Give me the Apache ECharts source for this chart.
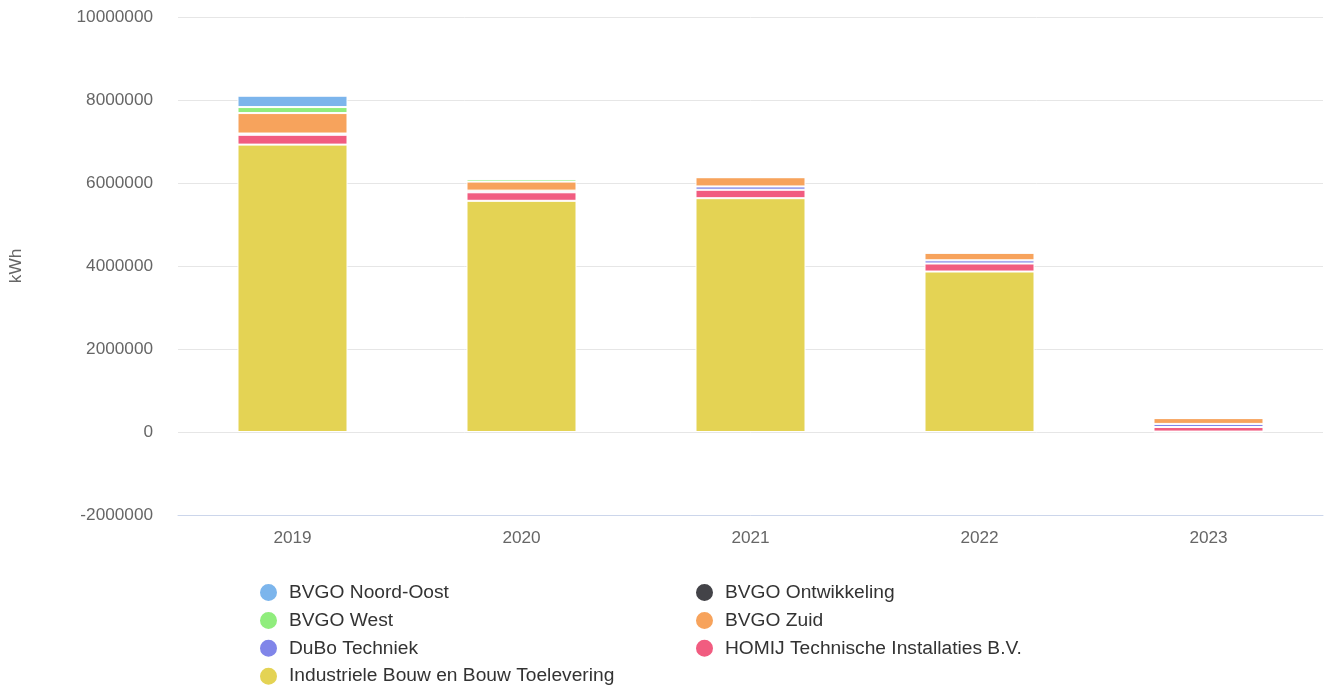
<!DOCTYPE html>
<html>
<head>
<meta charset="utf-8">
<script src="https://cdn.jsdelivr.net/npm/echarts@6/dist/echarts.min.js"></script>
<style>
html,body{margin:0;padding:0;background:#fff;}
#c{width:1324px;height:686px;}
</style>
</head>
<body>
<div id="c"></div>
<script>
var categories = ['2019', '2020', '2021', '2022', '2023'];
var industriele = [6925000, 5571000, 5634000, 3867000, 10000];
var homij = [237000, 205000, 203000, 193000, 110000];
var dubo = [30000, 40000, 80000, 77000, 75000];
var zuid = [493000, 218000, 222000, 184000, 140000];
var west = [145000, 65000, 0, 0, 0];
var ontwikkeling = [0, 0, 0, 0, 0];
var noordOost = [273000, 0, 0, 0, 0];
var yTicks = [-2000000, 0, 2000000, 4000000, 6000000, 8000000, 10000000];

var names = {
  no: 'BVGO Noord-Oost', on: 'BVGO Ontwikkeling', we: 'BVGO West', zu: 'BVGO Zuid',
  du: 'DuBo Techniek', ho: 'HOMIJ Technische Installaties B.V.', ind: 'Industriele Bouw en Bouw Toelevering'
};
var colors = {
  no: '#7cb5ec', on: '#434348', we: '#90ed7d', zu: '#f7a35c', du: '#8085e9', ho: '#f15c80', ind: '#e4d354'
};
var font = '"Liberation Sans", Arial, Helvetica, sans-serif';

function ser(key, data) {
  return {
    name: names[key], type: 'bar', stack: 'total', data: data, barWidth: 110,
    itemStyle: { color: colors[key], borderColor: '#ffffff', borderWidth: 1 },
    emphasis: { disabled: true }
  };
}

var legendCommon = {
  orient: 'vertical', icon: 'circle', itemWidth: 19, itemHeight: 19, itemGap: 6.9,
  padding: 0, height: 120,
  textStyle: { fontFamily: font, fontSize: 19.2, color: '#333333', lineHeight: 19, height: 19, padding: [0, 0, 0, 6] },
  top: 582
};

var chart = echarts.init(document.getElementById('c'));
chart.setOption({
  animation: false,
  textStyle: { fontFamily: font },
  grid: { left: 178, right: 1, top: 17, bottom: 171 },
  legend: [
    Object.assign({}, legendCommon, { left: 258, data: [names.no, names.we, names.du, names.ind] }),
    Object.assign({}, legendCommon, { left: 694, data: [names.on, names.zu, names.ho] })
  ],
  xAxis: {
    type: 'category', data: categories,
    axisLine: { onZero: false, lineStyle: { color: '#ccd6eb', width: 1 } },
    axisTick: { show: false },
    axisLabel: { color: '#666666', fontSize: 17.2, margin: 15, fontFamily: font }
  },
  yAxis: {
    type: 'value', min: yTicks[0], max: yTicks[yTicks.length - 1], interval: 2000000,
    name: 'kWh', nameLocation: 'middle', nameGap: 153, nameRotate: 90,
    nameTextStyle: { color: '#666666', fontSize: 17.2, fontFamily: font },
    axisLine: { show: false }, axisTick: { show: false },
    axisLabel: { color: '#666666', fontSize: 17.2, margin: 25, fontFamily: font,
      formatter: function (v) { return String(v); } },
    splitLine: { lineStyle: { color: '#e6e6e6', width: 1 } }
  },
  series: [
    ser('ind', industriele),
    ser('ho', homij),
    ser('du', dubo),
    ser('zu', zuid),
    ser('we', west),
    ser('on', ontwikkeling),
    ser('no', noordOost)
  ]
});
</script>
</body>
</html>
